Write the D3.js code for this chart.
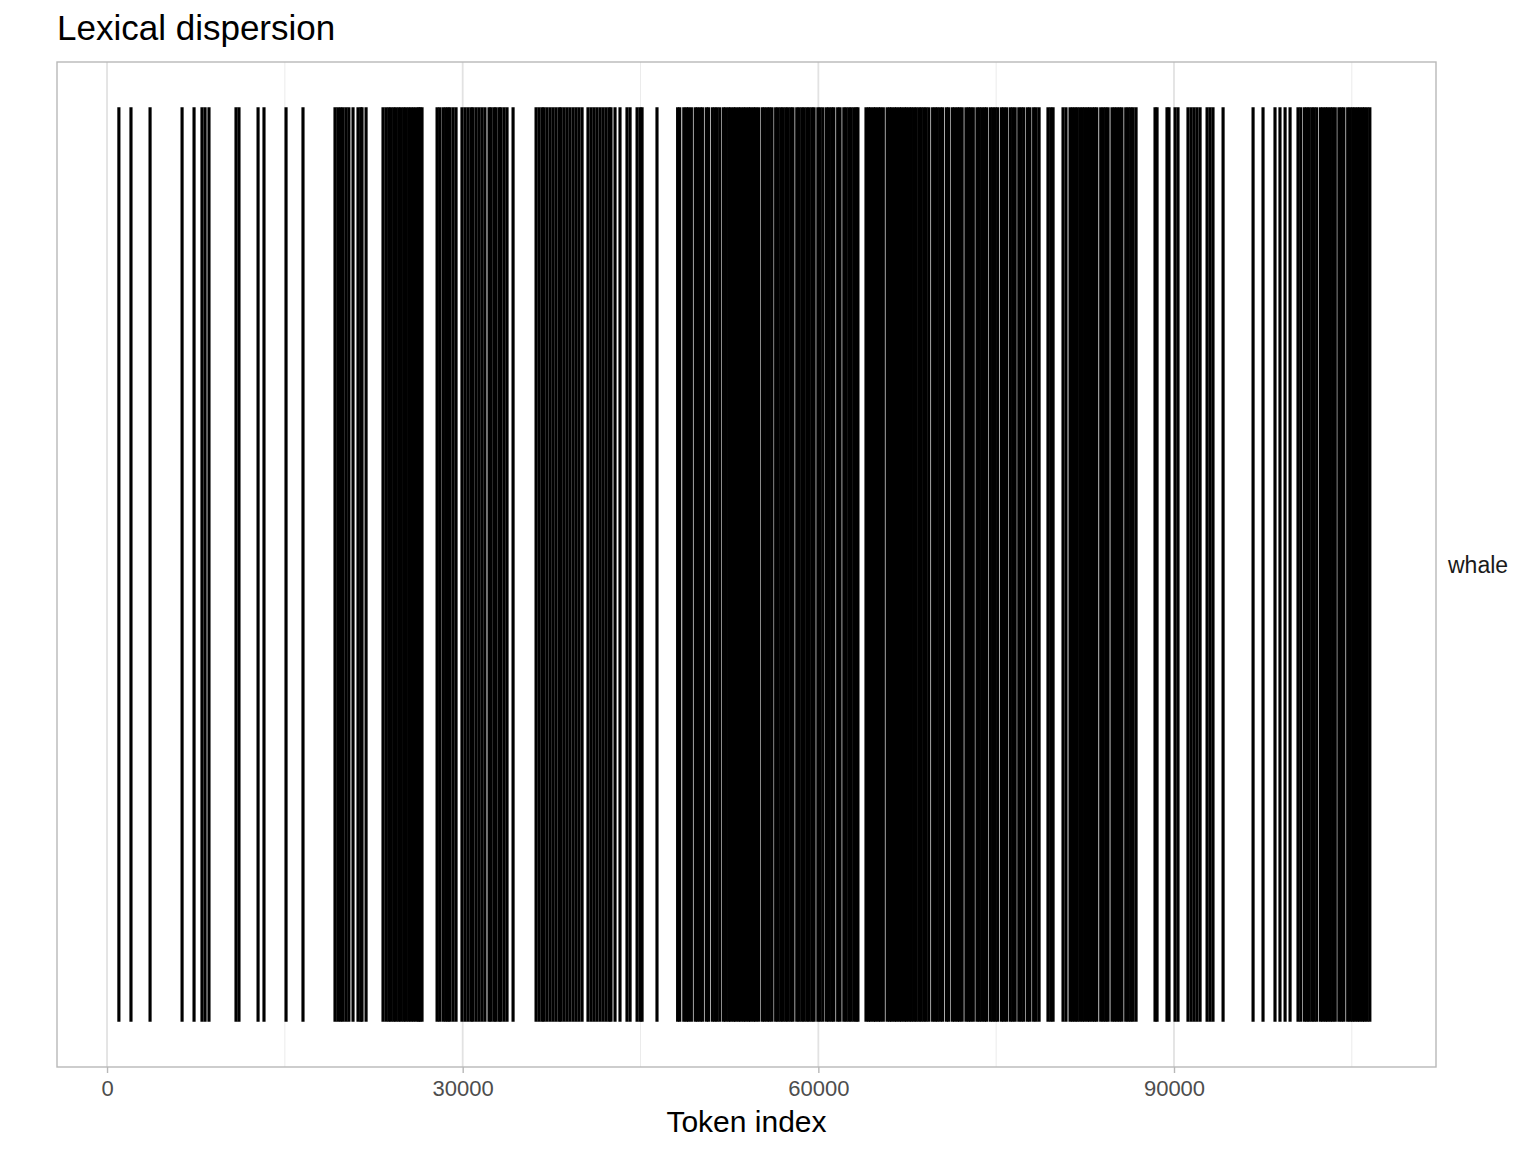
<!DOCTYPE html>
<html>
<head>
<meta charset="utf-8">
<script src="https://cdn.jsdelivr.net/npm/d3@7"></script>
<style>
  html, body { margin: 0; padding: 0; background: #fff; }
  text { font-family: "Liberation Sans", Arial, Helvetica, sans-serif; }
</style>
</head>
<body>
<svg id="chart" width="1536" height="1152"></svg>
<script>
// ---- data ----
const chartTitle = "Lexical dispersion";
const xAxisTitle = "Token index";
const words = ["whale"];
const xTicks = [0, 30000, 60000, 90000];
const xMinorTicks = [15000, 45000, 75000, 105000];
const xLimits = [-4220, 112100];

// token positions of "whale"
const whaleTokens = [
  1000, 2020, 3630, 6330, 7340, 8010, 8270, 8600, 10880, 11130, 12740, 13240,
  15100, 16530, 19230, 19470, 19700, 19910, 20160, 20400, 20750, 21170, 21400, 21510, 21850,
  23280, 23530, 23760, 23950, 24180, 24370, 24600, 24790, 25020, 25210, 25440,
  25640, 25850, 26070, 26270, 26400, 26570,
  27840, 28060, 28340, 28560, 28760, 28930, 29190, 29440, 29940, 30200, 30450, 30700,
  30870, 31130, 31380, 31630, 31880, 32220, 32390, 32640, 32810, 33070, 33230,
  33490, 33740, 34250,
  36190, 36440, 36690, 36860, 37110, 37370, 37620, 37870, 38130, 38300, 38550,
  38800, 39050, 39310, 39560, 39810, 40070,
  40570, 40830, 41080, 41330, 41590, 41840, 42090, 42340, 42510, 42850, 43270,
  43860, 44120, 44710, 44960, 45130, 46390,
  48130, 48310, 48650, 48860, 49050, 49290, 49610, 49800, 50030, 50220, 50540,
  50740, 51060, 51270, 51460, 51690, 52000, 52190, 52430, 52610, 52850, 53030,
  53270, 53460, 53690, 53880, 54110, 54290, 54530, 54720, 54950, 55260, 55450,
  55680, 55870, 56090, 56400, 56600, 56830, 57020, 57250, 57440, 57670, 57860,
  58180, 58380, 58610, 58800, 59030, 59220, 59450, 59640, 59960, 60160, 60390,
  60690, 60890, 61120, 61310, 61630, 61830, 62150, 62350, 62580, 62770, 63000,
  63190, 63340,
  64020, 64230, 64410, 64650, 64830, 65060, 65250, 65480, 65800, 66010, 66190,
  66420, 66610, 66830, 67020, 67250, 67430, 67660, 67850, 68070, 68260, 68490,
  68680, 68900, 69090, 69320, 69640, 69850, 70040, 70270, 70480, 70800, 71000,
  71310, 71510, 71730, 71920, 72130, 72450, 72660, 72850, 73070, 73380, 73580,
  73790, 74010, 74200, 74510, 74720, 74920, 75130, 75450, 75650, 75870, 76180,
  76390, 76600, 76910, 77120, 77330, 77640, 77850, 78160, 78370, 78620,
  79370, 79600, 79800, 80640, 80890,
  81230, 81440, 81650, 81840, 82060, 82270, 82470, 82690, 82880, 83100, 83300,
  83490, 83820, 84030, 84240, 84440, 84770, 84980, 85190, 85400, 85610, 85930,
  86140, 86350, 86550, 86800,
  88400, 88570, 89410, 89580, 90090, 90340, 91180, 91440, 91690, 91940, 92200,
  92790, 93040, 93290, 94140,
  96670, 97510, 98520, 98940, 99370, 99790,
  100460, 100690, 101000, 101210, 101400, 101630, 101820, 102040, 102360,
  102560, 102780, 102970, 103190, 103390, 103600, 103910, 104120, 104330,
  104650, 104860, 105070, 105260, 105480, 105670, 105890, 106080, 106300, 106520
];

// ---- layout ----
const svg = d3.select("#chart");
const panel = { left: 57, right: 1436, top: 62, bottom: 1067 };

const x = d3.scaleLinear().domain(xLimits).range([panel.left, panel.right]);
// discrete y with one level, ggplot-style expansion
const y = d3.scaleLinear().domain([0.4, 1.6]).range([panel.bottom, panel.top]);
const halfHeight = 0.546;

// background
svg.append("rect").attr("width", 1536).attr("height", 1152).attr("fill", "#fff");

// grid
const grid = svg.append("g");
grid.selectAll("line.minor").data(xMinorTicks).join("line")
  .attr("x1", d => x(d)).attr("x2", d => x(d))
  .attr("y1", panel.top).attr("y2", panel.bottom)
  .attr("stroke", "#ebebeb").attr("stroke-width", 1);
grid.selectAll("line.major").data(xTicks).join("line")
  .attr("x1", d => x(d)).attr("x2", d => x(d))
  .attr("y1", panel.top).attr("y2", panel.bottom)
  .attr("stroke", "#e2e2e2").attr("stroke-width", 1.8);

// dispersion lines
svg.append("g").selectAll("line").data(whaleTokens).join("line")
  .attr("x1", d => x(d)).attr("x2", d => x(d))
  .attr("y1", y(1 + halfHeight)).attr("y2", y(1 - halfHeight))
  .attr("stroke", "#000").attr("stroke-width", 3.15);

// panel border
svg.append("rect")
  .attr("x", panel.left).attr("y", panel.top)
  .attr("width", panel.right - panel.left).attr("height", panel.bottom - panel.top)
  .attr("fill", "none").attr("stroke", "#b8b8b8").attr("stroke-width", 1.4);

// x axis
const xAxis = d3.axisBottom(x).tickValues(xTicks).tickFormat(d3.format("d"))
  .tickSize(6).tickPadding(7);
const gx = svg.append("g").attr("transform", `translate(0,${panel.bottom})`).call(xAxis);
gx.select(".domain").remove();
gx.selectAll(".tick line").attr("stroke", "#b8b8b8").attr("stroke-width", 1.4);
gx.selectAll(".tick text").attr("fill", "#4d4d4d").attr("font-size", 22)
  .style("font-family", '"Liberation Sans", Arial, sans-serif');

// titles
svg.append("text").attr("x", 57).attr("y", 40)
  .attr("font-size", 35).attr("fill", "#000").text(chartTitle);
svg.append("text").attr("x", (panel.left + panel.right) / 2).attr("y", 1132)
  .attr("text-anchor", "middle").attr("font-size", 30).attr("fill", "#000").text(xAxisTitle);

// strip label
svg.selectAll("text.strip").data(words).join("text")
  .attr("class", "strip")
  .attr("x", 1448).attr("y", y(1)).attr("dy", "0.35em")
  .attr("font-size", 23).attr("fill", "#1a1a1a").text(d => d);
</script>
</body>
</html>
